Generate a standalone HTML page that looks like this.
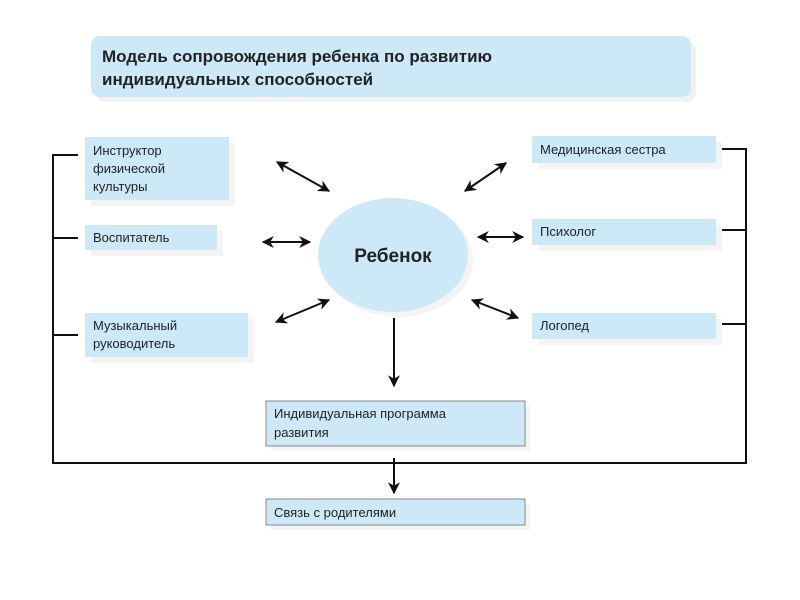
<!DOCTYPE html>
<html><head><meta charset="utf-8"><style>
html,body{margin:0;padding:0;background:#fff;width:800px;height:600px;overflow:hidden}
text{font-family:"Liberation Sans","DejaVu Sans",sans-serif;fill:#222}
</style></head><body>
<svg width="800" height="600" viewBox="0 0 800 600" xmlns="http://www.w3.org/2000/svg">
<defs>
<marker id="a" viewBox="0 0 10 10" refX="9" refY="5" markerWidth="6" markerHeight="6" orient="auto-start-reverse"><path d="M0,0 L10,5 L0,10 L3,5 z" fill="#111"/></marker>
</defs>
<!-- title -->
<rect x="96" y="41" width="600" height="61" rx="9" fill="#f2f2f2"/>
<rect x="91" y="36" width="600" height="61" rx="9" fill="#cde9f8"/>
<text x="102" y="62" font-size="17" font-weight="bold">Модель сопровождения ребенка по развитию</text>
<text x="102" y="85" font-size="17" font-weight="bold">индивидуальных способностей</text>
<!-- shadows -->
<g fill="#f4f4f4">
<rect x="91" y="143" width="144" height="63"/><rect x="91" y="231" width="132" height="25"/><rect x="91" y="319" width="163" height="44"/>
<rect x="538" y="142" width="184" height="27"/><rect x="538" y="225" width="184" height="26"/><rect x="538" y="319" width="184" height="26"/>
<rect x="271" y="406" width="259" height="45"/><rect x="271" y="504" width="259" height="26"/>
<ellipse cx="398" cy="260" rx="75" ry="57"/>
</g>
<g fill="#cde9f8">
<rect x="85" y="137" width="144" height="63"/><rect x="85" y="225" width="132" height="25"/><rect x="85" y="313" width="163" height="44"/>
<rect x="532" y="136" width="184" height="27"/><rect x="532" y="219" width="184" height="26"/><rect x="532" y="313" width="184" height="26"/>
<rect x="266" y="401" width="259" height="45" stroke="#888" stroke-width="1"/><rect x="266" y="499" width="259" height="26" stroke="#888" stroke-width="1"/>
<ellipse cx="393" cy="255" rx="75" ry="57"/>
</g>
<g font-size="13">
<text x="93" y="155">Инструктор</text><text x="93" y="173">физической</text><text x="93" y="191">культуры</text>
<text x="93" y="242">Воспитатель</text>
<text x="93" y="330">Музыкальный</text><text x="93" y="348">руководитель</text>
<text x="540" y="154">Медицинская сестра</text>
<text x="540" y="236">Психолог</text>
<text x="540" y="330">Логопед</text>
<text x="274" y="418">Индивидуальная программа</text><text x="274" y="437">развития</text>
<text x="274" y="517">Связь с родителями</text>
</g>
<text x="393" y="262" font-size="19" font-weight="bold" text-anchor="middle">Ребенок</text>
<!-- brackets -->
<g stroke="#111" stroke-width="2" fill="none">
<path d="M78,155 H53 V463 H746 V149 H722"/>
<path d="M53,238 H78 M53,335 H78 M746,230 H722 M746,324 H722"/>
</g>
<g stroke="#111" stroke-width="2" marker-start="url(#a)" marker-end="url(#a)">
<line x1="277" y1="162" x2="329" y2="191"/>
<line x1="263" y1="242" x2="310" y2="242"/>
<line x1="276" y1="322" x2="329" y2="300"/>
<line x1="465" y1="191" x2="506" y2="163"/>
<line x1="478" y1="237" x2="523" y2="237"/>
<line x1="472" y1="300" x2="518" y2="318"/>
</g>
<g stroke="#111" stroke-width="2" marker-end="url(#a)">
<line x1="394" y1="318" x2="394" y2="386"/>
<line x1="394" y1="458" x2="394" y2="493"/>
</g>
</svg>
</body></html>
